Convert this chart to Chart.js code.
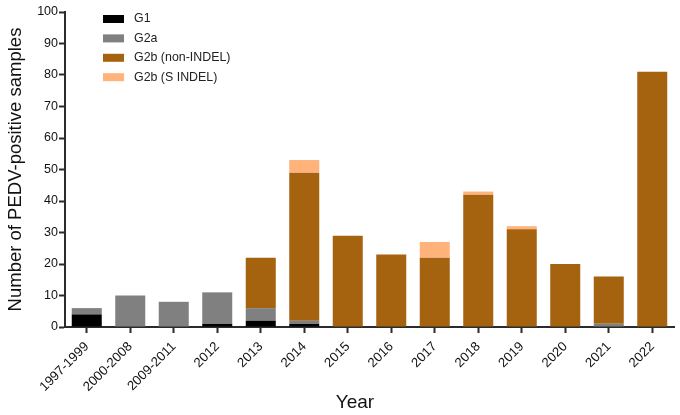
<!DOCTYPE html>
<html>
<head>
<meta charset="utf-8">
<style>
    html, body { margin: 0; padding: 0; background: #fff; }
    canvas { display: block; }
</style>
<script src="https://cdn.jsdelivr.net/npm/chart.js@4/dist/chart.umd.min.js"></script>
</head>
<body>
<canvas id="chart" width="680" height="415"></canvas>
<script>
const years = ['1997-1999', '2000-2008', '2009-2011', '2012', '2013', '2014', '2015', '2016', '2017', '2018', '2019', '2020', '2021', '2022'];
const g1 = [4, 0, 0, 1, 2, 1, 0, 0, 0, 0, 0, 0, 0, 0];
const g2a = [2, 10, 8, 10, 4, 1, 0, 0, 0, 0, 0, 0, 1, 0];
const g2bNonIndel = [0, 0, 0, 0, 16, 47, 29, 23, 22, 42, 31, 20, 15, 81];
const g2bSIndel = [0, 0, 0, 0, 0, 4, 0, 0, 5, 1, 1, 0, 0, 0];
const yTicks = [0, 10, 20, 30, 40, 50, 60, 70, 80, 90, 100];

const fontFamily = '"Liberation Sans", Arial, sans-serif';
const axisColor = '#2b2b2b';

function barSet(label, data, color) {
    return {
        label,
        data,
        backgroundColor: color,
        categoryPercentage: 1,
        barPercentage: 0.69,
        inflateAmount: 0,
    };
}

// Legend sits inside the plot and "Year" is off-centre, so draw both by hand
const insideText = {
    id: 'insideText',
    afterDraw(chart) {
        const ctx = chart.ctx;
        ctx.save();
        ctx.font = '12.4px ' + fontFamily;
        ctx.textBaseline = 'middle';
        ctx.textAlign = 'left';
        chart.data.datasets.forEach((ds, i) => {
            const y = 19 + i * 19.4;
            ctx.fillStyle = ds.backgroundColor;
            ctx.fillRect(103, y - 4, 21, 8);
            ctx.fillStyle = '#222';
            ctx.fillText(ds.label, 134, y);
        });
        ctx.font = '19px ' + fontFamily;
        ctx.textBaseline = 'alphabetic';
        ctx.textAlign = 'center';
        ctx.fillStyle = '#111';
        ctx.fillText('Year', 355, 408);
        ctx.restore();
    },
};

new Chart(document.getElementById('chart'), {
    type: 'bar',
    data: {
        labels: years,
        datasets: [
            barSet('G1', g1, '#000000'),
            barSet('G2a', g2a, '#808080'),
            barSet('G2b (non-INDEL)', g2bNonIndel, '#a5620f'),
            barSet('G2b (S INDEL)', g2bSIndel, '#ffb27a'),
        ],
    },
    options: {
        responsive: false,
        animation: false,
        layout: { padding: { top: 12, right: 6, left: 0, bottom: 0 } },
        plugins: {
            legend: { display: false },
            tooltip: { enabled: false },
        },
        scales: {
            x: {
                stacked: true,
                afterFit: (scale) => { scale.height = 88; },
                border: { color: axisColor, width: 2 },
                grid: { drawOnChartArea: false, offset: false, tickColor: axisColor, tickLength: 6, tickWidth: 2 },
                ticks: {
                    color: '#111',
                    font: { family: fontFamily, size: 13.2 },
                    maxRotation: 45,
                    minRotation: 45,
                    autoSkip: false,
                    padding: 6,
                },
            },
            y: {
                stacked: true,
                min: 0,
                max: 100,
                afterBuildTicks: (scale) => { scale.ticks = yTicks.map((value) => ({ value })); },
                afterFit: (scale) => { scale.width = 65; },
                border: { color: axisColor, width: 2 },
                grid: { drawOnChartArea: false, tickColor: axisColor, tickLength: 6, tickWidth: 2 },
                ticks: {
                    color: '#111',
                    font: { family: fontFamily, size: 12.5 },
                    padding: 1,
                },
                title: {
                    display: true,
                    text: 'Number of PEDV-positive samples',
                    color: '#111',
                    font: { family: fontFamily, size: 18.5 },
                    padding: { top: 5, bottom: 0 },
                },
            },
        },
    },
    plugins: [insideText],
});
</script>
</body>
</html>
